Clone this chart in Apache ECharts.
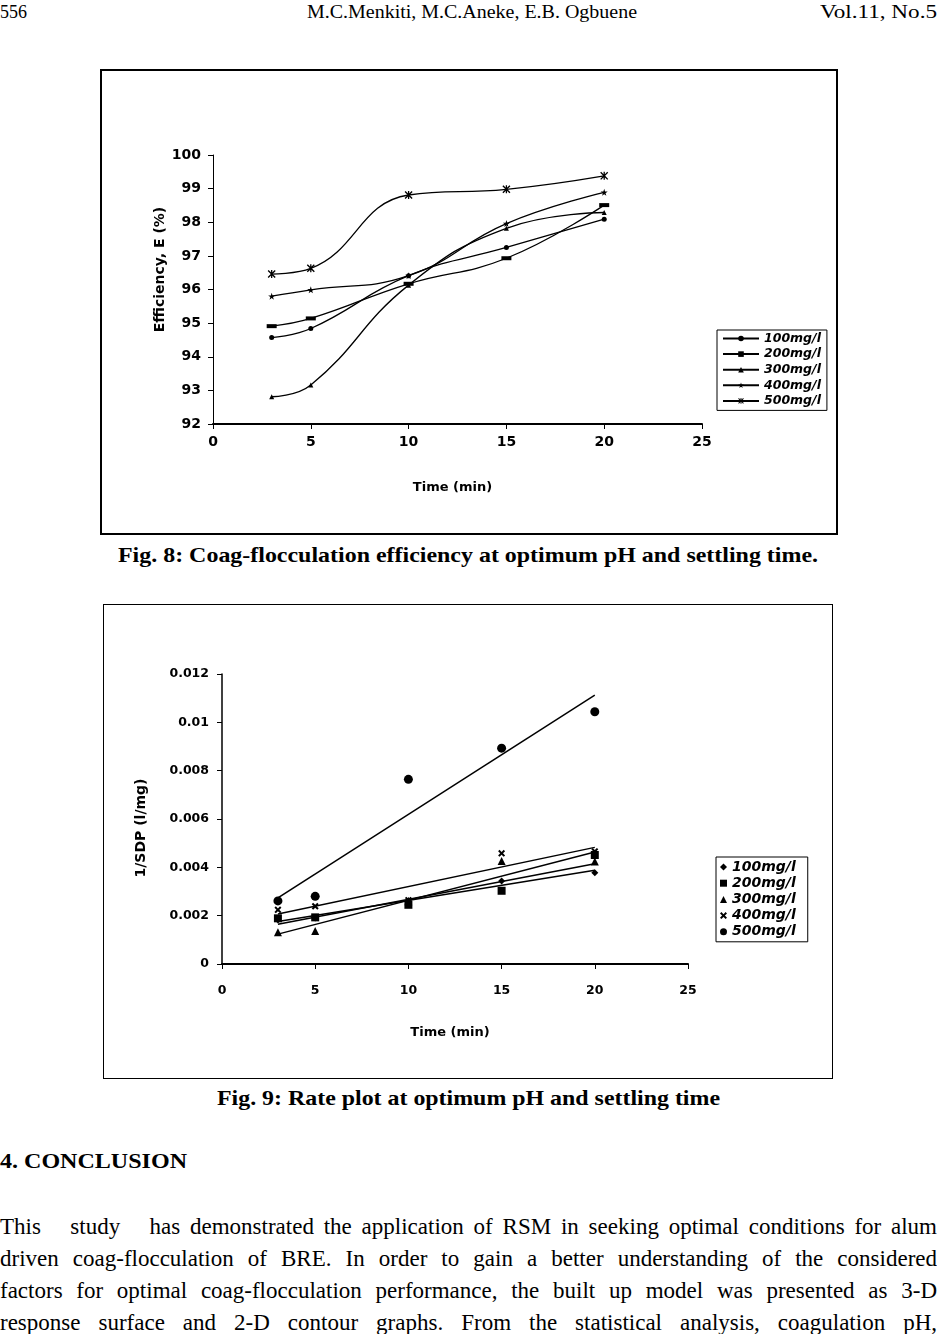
<!DOCTYPE html>
<html>
<head>
<meta charset="utf-8">
<script src="https://cdn.jsdelivr.net/npm/echarts@6/dist/echarts.min.js"></script>
<style>
html,body{margin:0;padding:0;background:#fff;width:937px;height:1334px;overflow:hidden;position:relative;}
.t{position:absolute;font-family:"Liberation Serif","Times New Roman",serif;color:#000;white-space:nowrap;transform-origin:left top;}
.frame{position:absolute;box-sizing:border-box;border:2px solid #000;}
.chart{position:absolute;}
.jl{position:absolute;left:0;font-family:"Liberation Serif","Times New Roman",serif;font-size:23px;line-height:23px;text-align:justify;text-align-last:justify;white-space:nowrap;transform-origin:left top;}
</style>
</head>
<body>
<div class="t fit" data-l="0" data-w="27" style="top:3px;font-size:18px;line-height:18px;">556</div>
<div class="t fit" data-l="307" data-w="330" style="top:3px;font-size:18px;line-height:18px;">M.C.Menkiti, M.C.Aneke, E.B. Ogbuene</div>
<div class="t fit" data-l="820" data-w="117" style="top:3px;font-size:18px;line-height:18px;">Vol.11, No.5</div>

<div class="frame" style="left:100px;top:69px;width:738px;height:466px;"></div>
<div id="c1" class="chart" style="left:101px;top:70px;width:736px;height:464px;"></div>
<div class="t fit" data-l="118" data-w="700" style="top:545px;font-size:21px;line-height:21px;font-weight:bold;">Fig. 8: Coag-flocculation efficiency at optimum pH and settling time.</div>

<div class="frame" style="left:103px;top:604px;width:730px;height:475px;border-width:1.5px;"></div>
<div id="c2" class="chart" style="left:104px;top:605px;width:728px;height:473px;"></div>
<div class="t fit" data-l="217" data-w="503" style="top:1088px;font-size:21px;line-height:21px;font-weight:bold;">Fig. 9: Rate plot at optimum pH and settling time</div>

<div class="t fit" data-l="0" data-w="187" style="top:1151px;font-size:21px;line-height:21px;font-weight:bold;">4. CONCLUSION</div>
<div class="jl" style="top:1215px;">This &nbsp; study &nbsp; has demonstrated the application of RSM in seeking optimal conditions for alum</div>
<div class="jl" style="top:1247px;">driven coag-flocculation of BRE. In order to gain a better understanding of the considered</div>
<div class="jl" style="top:1279px;">factors for optimal coag-flocculation performance, the built up model was presented as 3-D</div>
<div class="jl" style="top:1311px;">response surface and 2-D contour graphs. From the statistical analysis, coagulation pH,</div>

<script>
// ---------- data ----------
var seriesNames = ['100mg/l', '200mg/l', '300mg/l', '400mg/l', '500mg/l'];
var timeMin = [3, 5, 10, 15, 20];
// Fig. 8: efficiency (%)
var eff100 = [94.57, 94.84, 96.41, 97.25, 98.09];
var eff200 = [94.91, 95.14, 96.17, 96.93, 98.51];
var eff300 = [92.81, 93.16, 96.13, 97.82, 98.29];
var eff400 = [95.80, 95.99, 96.41, 97.96, 98.89];
var eff500 = [96.46, 96.63, 98.81, 98.98, 99.38];
// Fig. 9: 1/SDP (l/mg)
var sdp100 = [0.00182, 0.00190, 0.00262, 0.00343, 0.00378];
var sdp200 = [0.00189, 0.00193, 0.00245, 0.00303, 0.00451];
var sdp300 = [0.00131, 0.00137, 0.00260, 0.00426, 0.00424];
var sdp400 = [0.00224, 0.00239, 0.00264, 0.00458, 0.00466];
var sdp500 = [0.00261, 0.00280, 0.00764, 0.00893, 0.01044];
var xTicks1 = [0, 5, 10, 15, 20, 25];
var yTicks1 = [92, 93, 94, 95, 96, 97, 98, 99, 100];
var yTicks2 = [0, 0.002, 0.004, 0.006, 0.008, 0.01, 0.012];

// ---------- helpers ----------
function pairs(xs, ys){ return xs.map(function(x,i){ return [x, ys[i]]; }); }
function linFit(xs, ys){
  var n = xs.length, mx = 0, my = 0;
  for (var i=0;i<n;i++){ mx += xs[i]; my += ys[i]; }
  mx /= n; my /= n;
  var sxy = 0, sxx = 0;
  for (var j=0;j<n;j++){ sxy += (xs[j]-mx)*(ys[j]-my); sxx += (xs[j]-mx)*(xs[j]-mx); }
  var b = sxy/sxx, a = my - b*mx;
  var x0 = Math.min.apply(null, xs), x1 = Math.max.apply(null, xs);
  return [[x0, a+b*x0], [x1, a+b*x1]];
}
var FONT = 'DejaVu Sans';
var XPATH = 'path://M0,2 L2,0 L5,3 L8,0 L10,2 L7,5 L10,8 L8,10 L5,7 L2,10 L0,8 L3,5 Z';
var ASTER = 'path://M0,1.2 L1.2,0 L5,3.8 L8.8,0 L10,1.2 L6.2,5 L10,8.8 L8.8,10 L5,6.2 L1.2,10 L0,8.8 L3.8,5 Z M4.2,0 L5.8,0 L5.8,10 L4.2,10 Z';
var STAR = 'path://M5,0 L6.2,3.6 L10,3.6 L6.9,5.9 L8.1,9.5 L5,7.3 L1.9,9.5 L3.1,5.9 L0,3.6 L3.8,3.6 Z';

function axisBase(){
  return {
    nameMoveOverlap:false,
    axisLabel:{color:'#000', fontFamily:FONT, fontWeight:'bold'},
    axisTick:{show:true, inside:false, length:5, lineStyle:{color:'#000', width:1}},
    splitLine:{show:false},
    nameTextStyle:{color:'#000', fontFamily:FONT, fontWeight:'bold'}
  };
}

// ---------- Fig. 8 ----------
var c1 = echarts.init(document.getElementById('c1'), null, {renderer:'canvas'});
var effData = [eff100, eff200, eff300, eff400, eff500];
var sym1 = ['circle', 'rect', 'triangle', STAR, ASTER];
var symSize1 = [5, [10,4], 5, 7, 8];
var x1 = axisBase(), y1 = axisBase();
Object.assign(x1, {type:'value', min:0, max:25, interval:5, name:'Time (min)', nameLocation:'middle', nameGap:57,
  axisLine:{show:true, onZero:false, lineStyle:{color:'#000', width:2}}});
x1.axisLabel.fontSize = 14; x1.axisLabel.margin = 11;
x1.nameTextStyle.fontSize = 13; x1.nameTextStyle.padding = [0, 10, 0, 0];
Object.assign(y1, {type:'value', min:92, max:100, interval:1, name:'Efficiency, E (%)', nameLocation:'middle', nameRotate:90, nameGap:46,
  axisLine:{show:true, onZero:false, lineStyle:{color:'#000', width:1}}});
y1.axisLabel.fontSize = 14; y1.axisLabel.margin = 12;
y1.nameTextStyle.fontSize = 14; y1.nameTextStyle.padding = [0, 0, 0, 40];

c1.setOption({
  animation:false,
  backgroundColor:'transparent',
  grid:{left:112, right:135, top:85, bottom:110, containLabel:false},
  xAxis:x1, yAxis:y1,
  legend:{
    orient:'vertical', left:616, top:260, data:seriesNames,
    backgroundColor:'#fff', borderColor:'#000', borderWidth:1, borderRadius:0,
    padding:[2,6,3,5], itemWidth:36, itemHeight:7, itemGap:2.6,
    textStyle:{color:'#000', fontFamily:FONT, fontWeight:'bold', fontStyle:'italic', fontSize:12.5, lineHeight:13}
  },
  series: effData.map(function(d,i){
    return {
      name:seriesNames[i], type:'line', data:pairs(timeMin, d), smooth:0.45,
      symbol:sym1[i], symbolSize:symSize1[i], showSymbol:true,
      lineStyle:{color:'#000', width:1.3}, itemStyle:{color:'#000', borderWidth:0},
      emphasis:{disabled:true}
    };
  })
});

// ---------- Fig. 9 ----------
var c2 = echarts.init(document.getElementById('c2'), null, {renderer:'canvas'});
var sdpData = [sdp100, sdp200, sdp300, sdp400, sdp500];
var sym2 = ['diamond', 'rect', 'triangle', XPATH, 'circle'];
var symSize2 = [7, 8, 8, 7, 9];
var x2 = axisBase(), y2 = axisBase();
Object.assign(x2, {type:'value', min:0, max:25, interval:5, name:'Time (min)', nameLocation:'middle', nameGap:62,
  axisLine:{show:true, onZero:false, lineStyle:{color:'#000', width:2}}});
x2.axisLabel.fontSize = 12.5; x2.axisLabel.margin = 20;
x2.nameTextStyle.fontSize = 13; x2.nameTextStyle.padding = [0, 10, 0, 0];
Object.assign(y2, {type:'value', min:0, max:0.012, interval:0.002, name:'1/SDP (l/mg)', nameLocation:'middle', nameRotate:90, nameGap:74,
  axisLine:{show:true, onZero:false, lineStyle:{color:'#000', width:1.5}}});
y2.axisLabel.fontSize = 12.5; y2.axisLabel.margin = 13;
y2.nameTextStyle.fontSize = 14; y2.nameTextStyle.padding = [0, 18, 0, 0];
y2.axisLabel.formatter = function(v){ return String(+v.toFixed(4)); };

var series2 = [];
sdpData.forEach(function(d,i){
  series2.push({
    name:seriesNames[i] + ' trend', type:'line', data:linFit(timeMin, d), symbol:'none',
    lineStyle:{color:'#000', width:1.5}, silent:true, z:2, emphasis:{disabled:true}
  });
});
sdpData.forEach(function(d,i){
  series2.push({
    name:seriesNames[i], type:'scatter', data:pairs(timeMin, d),
    symbol:sym2[i], symbolSize:symSize2[i], itemStyle:{color:'#000', opacity:1}, z:3, emphasis:{disabled:true}
  });
});

c2.setOption({
  animation:false,
  backgroundColor:'transparent',
  grid:{left:118, right:144, top:69, bottom:114, containLabel:false},
  xAxis:x2, yAxis:y2,
  legend:{
    orient:'vertical', left:612, top:252, data:seriesNames,
    backgroundColor:'#fff', borderColor:'#000', borderWidth:1, borderRadius:0,
    padding:[3,12,3,4], itemWidth:7, itemHeight:7, itemGap:2.2,
    textStyle:{color:'#000', fontFamily:FONT, fontWeight:'bold', fontStyle:'italic', fontSize:14, lineHeight:14}
  },
  series:series2
});

// ---------- fit page text ----------
function fitAll(){
  document.querySelectorAll('.fit').forEach(function(el){
    el.style.left = el.getAttribute('data-l') + 'px';
    el.style.transform = 'none';
    var w = el.getBoundingClientRect().width;
    var target = +el.getAttribute('data-w');
    el.style.transform = 'scaleX(' + (target / w) + ')';
  });
  document.querySelectorAll('.jl').forEach(function(el){
    el.style.transform = 'none';
    el.style.width = 'auto';
    el.style.display = 'inline-block';
    var w = el.getBoundingClientRect().width;
    if (w > 937) {
      el.style.width = w + 'px';
      el.style.transform = 'scaleX(' + (937 / w) + ')';
    } else {
      el.style.width = '937px';
    }
  });
}
fitAll();
if (document.fonts && document.fonts.ready) document.fonts.ready.then(fitAll);
</script>
</body>
</html>
